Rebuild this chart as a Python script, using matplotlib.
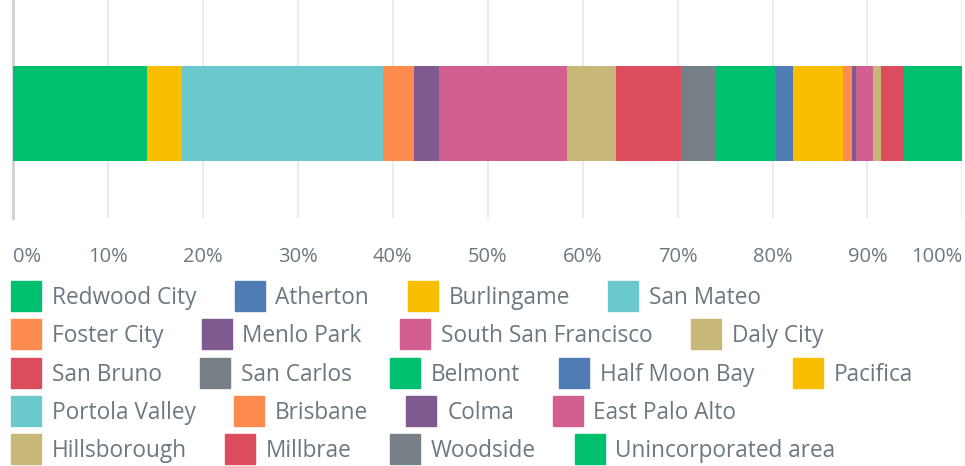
import matplotlib
matplotlib.use('Agg')
import numpy as np
from matplotlib import pyplot as plt
from matplotlib.lines import Line2D

plt.rcParams['font.family'] = ['Open Sans', 'DejaVu Sans']

# share of responses per place (%), in bar order
places = ['Redwood City', 'Atherton', 'Burlingame', 'San Mateo',
          'Foster City', 'Menlo Park', 'South San Francisco', 'Daly City',
          'San Bruno', 'San Carlos', 'Belmont', 'Half Moon Bay', 'Pacifica',
          'Portola Valley', 'Brisbane', 'Colma', 'East Palo Alto',
          'Hillsborough', 'Millbrae', 'Woodside', 'Unincorporated area']
shares = [14.12, 0.0, 3.62, 21.25,
          3.27, 2.60, 13.45, 5.20,
          6.85, 3.61, 6.40, 1.82, 5.27,
          0.0, 0.95, 0.42, 1.79,
          0.81, 2.32, 0.0, 6.25]
colors = ['#00bf6f', '#507cb6', '#f9be00', '#6bc8cd',
          '#ff8b4f', '#7f5a90', '#d25f90', '#c7b879',
          '#db4d5c', '#768086', '#00bf6f', '#507cb6', '#f9be00',
          '#6bc8cd', '#ff8b4f', '#7f5a90', '#d25f90',
          '#c7b879', '#db4d5c', '#768086', '#00bf6f']
row_sizes = [4, 4, 5, 4, 4]  # legend items per row
tick_vals = np.arange(0, 101, 10)
tick_labels = ['%d%%' % v for v in tick_vals]

W, H = 965, 466
fig = plt.figure(figsize=(W / 100, H / 100), dpi=100)
ax = fig.add_axes([13.3 / W, 1 - 218 / H, 949 / W, 218 / H])

left = np.concatenate([[0], np.cumsum(shares)[:-1]])
ax.barh(0, shares, left=left, height=1.0, color=colors, linewidth=0, zorder=3)

ax.set_xlim(0, 100)
ax.set_ylim(-1.1, 1.195)
ax.set_yticks([])
ax.set_xticks(tick_vals)
ax.set_xticklabels(tick_labels, fontsize=14.5, color='#6b7880')
ax.tick_params(axis='x', length=0, pad=21)
tl = ax.get_xticklabels()
tl[0].set_ha('left')
tl[-1].set_ha('right')
ax.grid(axis='x', color='#ebebeb', linewidth=1.5, zorder=0)
for s in ['top', 'right', 'bottom']:
    ax.spines[s].set_visible(False)
ax.spines['left'].set_color('#d0d0d0')
ax.spines['left'].set_linewidth(2)

# legend: one flow row per figure legend
row_y = [298, 336, 375, 413, 451]
fs = 16.3
start = 0
for n, yc in zip(row_sizes, row_y):
    hs = [Line2D([], [], linestyle='none', marker='s', markersize=21.5,
                 markerfacecolor=c, markeredgecolor=c)
          for c in colors[start:start + n]]
    fig.legend(hs, places[start:start + n], loc='center left',
               bbox_to_anchor=(11 / W, 1 - yc / H), ncol=n, frameon=False,
               fontsize=fs, labelcolor='#6b7880', borderpad=0,
               borderaxespad=0, handlelength=1.32, handletextpad=0.48,
               columnspacing=1.7)
    start += n

fig.savefig('out.png', dpi=100)
